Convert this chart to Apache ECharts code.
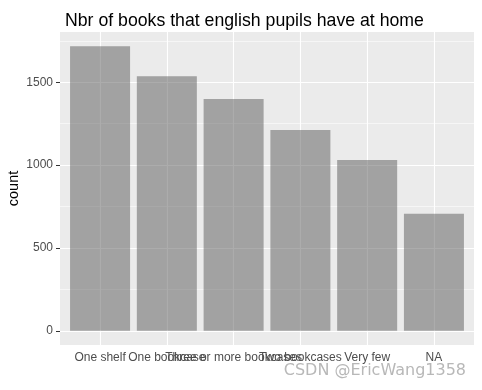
<!DOCTYPE html>
<html><head><meta charset="utf-8">
<script src="https://cdn.jsdelivr.net/npm/echarts@6/dist/echarts.min.js"></script>
<style>html,body{margin:0;padding:0;background:#fff}#c{width:482px;height:390px}</style>
</head><body><div id="c"></div>
<script>
const categories = ["One shelf", "One bookcase", "Three or more bookcases", "Two bookcases", "Very few", "NA"];
const counts = [1718, 1537, 1399, 1212, 1031, 706];
const yTicks = [0, 500, 1000, 1500];
const yMinor = [250, 750, 1250, 1750];
const titleText = "Nbr of books that english pupils have at home";
const yName = "count";

const positions = categories.map((c, i) => i + 1);
const maxCount = Math.max(...counts);
const yExp = maxCount * 0.05;

const chart = echarts.init(document.getElementById('c'), null, {renderer: 'canvas'});
const font = 'Liberation Sans, Arial, sans-serif';
chart.setOption({
  animation: false,
  backgroundColor: '#ffffff',
  title: {
    text: titleText, left: 60, top: 7,
    textStyle: {fontFamily: font, fontSize: 17.7, fontWeight: 'normal', color: '#000'}
  },
  grid: {left: 60, right: 8, top: 32, bottom: 45, show: true, backgroundColor: '#EBEBEB', borderWidth: 0,
    containLabel: false, outerBoundsMode: 'none'},
  xAxis: {
    type: 'value', min: 0.4, max: categories.length + 0.6,
    axisLine: {show: false},
    axisTick: {show: true, length: 4, lineStyle: {color: '#333333', width: 1}, customValues: positions},
    axisLabel: {customValues: positions, margin: 7, fontFamily: font, fontSize: 12, color: '#4D4D4D',
      formatter: v => categories[Math.round(v) - 1] || ''},
    splitLine: {show: false}
  },
  yAxis: {
    type: 'value', min: -yExp, max: maxCount + yExp,
    name: yName, nameLocation: 'middle', nameGap: 39, nameRotate: 90, nameMoveOverlap: false,
    nameTextStyle: {fontFamily: font, fontSize: 14.5, color: '#000'},
    axisLine: {show: false},
    axisTick: {show: true, length: 4, lineStyle: {color: '#333333', width: 1}, customValues: yTicks},
    axisLabel: {customValues: yTicks, margin: 7, fontFamily: font, fontSize: 12, color: '#4D4D4D',
      formatter: v => String(v)},
    splitLine: {show: false}
  },
  series: [
    {
      type: 'line', data: [], z: 1, silent: true,
      markLine: {
        silent: true, symbol: 'none', z: 1, animation: false,
        label: {show: false},
        emphasis: {disabled: true},
        data: [
          ...yMinor.map(v => ({yAxis: v, lineStyle: {color: '#ffffff', width: 0.55, type: 'solid'}})),
          ...yTicks.map(v => ({yAxis: v, lineStyle: {color: '#ffffff', width: 1.1, type: 'solid'}})),
          ...positions.map(v => ({xAxis: v, lineStyle: {color: '#ffffff', width: 1.1, type: 'solid'}}))
        ]
      }
    },
    {
      type: 'bar', z: 2, barWidth: 60,
      itemStyle: {color: 'rgba(89,89,89,0.5)'},
      data: positions.map((p, i) => [p, counts[i]])
    }
  ],
  graphic: [{
    type: 'text', right: 15, bottom: 10, z: 100,
    style: {text: 'CSDN @EricWang1358', fontFamily: 'DejaVu Sans, sans-serif', fontSize: 16,
      fill: '#b8b8b8', stroke: '#ffffff', lineWidth: 2}
  }]
});
</script></body></html>
